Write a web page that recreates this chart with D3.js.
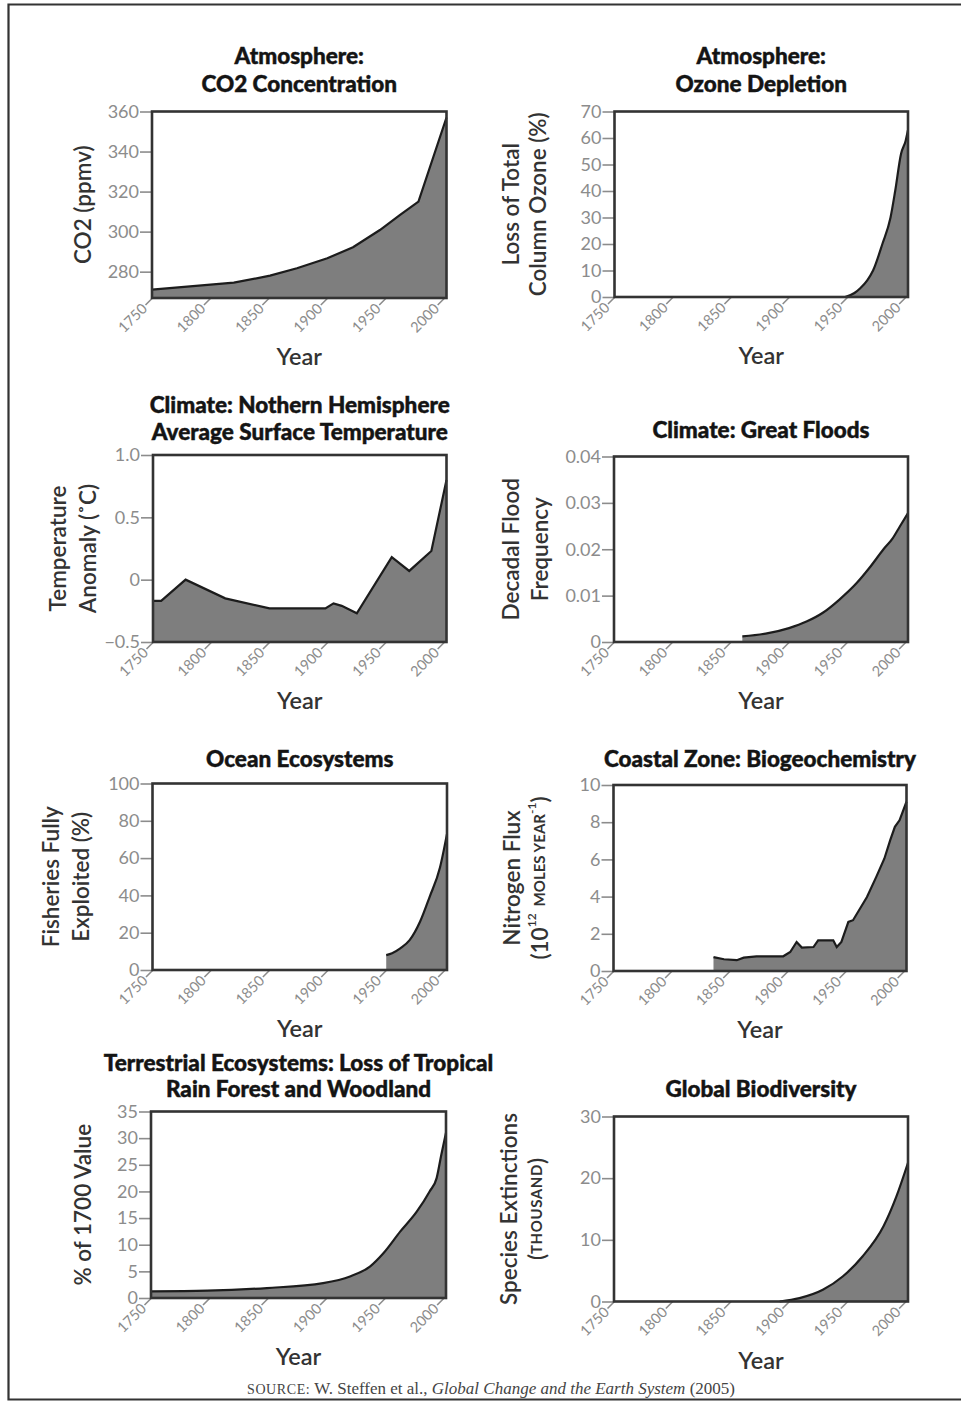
<!DOCTYPE html>
<html>
<head>
<meta charset="utf-8">
<title>Earth System Trends 1750-2000</title>
<script src="https://d3js.org/d3.v7.min.js"></script>
<style>
    body {
        margin: 0;
        background: #fff;
    }
    svg {
        display: block;
        font-family: Lato, "Open Sans", sans-serif;
    }
    .title {
        font-weight: 900;
        font-size: 22.5px;
        fill: #141414;
        stroke: #141414;
        stroke-width: 0.45px;
        text-anchor: middle;
    }
    .ytitle {
        font-size: 22.5px;
        font-weight: 600;
        fill: #333;
        text-anchor: middle;
        dominant-baseline: central;
    }
    .xtitle {
        font-size: 23.5px;
        font-weight: 600;
        fill: #333;
        text-anchor: middle;
    }
    .axis text {
        fill: #8c8c8c;
    }
    .axis line {
        stroke: #8c8c8c;
        stroke-width: 1.6;
    }
    .area {
        fill: #7e7e7e;
    }
    .line {
        fill: none;
        stroke: #1c1c1c;
        stroke-width: 2.2;
    }
    .frame {
        fill: none;
        stroke: #333;
        stroke-width: 2.6;
    }
    .source {
        font-family: "Liberation Serif", "DejaVu Serif", serif;
        font-size: 17px;
        fill: #444;
        text-anchor: middle;
    }
</style>
</head>
<body>
<div id="chart"></div>
<script>
    // shared x ticks
    const yearTicks = [1750, 1800, 1850, 1900, 1950, 2000];

    // Atmosphere: CO2 concentration (ppmv)
    const co2Years = [1750, 1820, 1851, 1874, 1900, 1922, 1945, 1962, 1978, 2002];
    const co2Values = [271, 274.5, 278, 281.7, 286.7, 292.2, 300.8, 308.3, 315, 357];
    const co2Ticks = [280, 300, 320, 340, 360];

    // Atmosphere: ozone depletion (%)
    const ozoneYears = [1948, 1956, 1961, 1967, 1972, 1980, 1987, 1991, 1996, 2000, 2002];
    const ozoneValues = [0, 1.5, 3.3, 6.3, 10, 20, 30, 40, 54, 59, 63];
    const ozoneTicks = [0, 10, 20, 30, 40, 50, 60, 70];

    // Climate: NH average surface temperature anomaly (C)
    const tempYears = [1750, 1757, 1778, 1812, 1850, 1898, 1905, 1912, 1925, 1955, 1970, 1989, 2002];
    const tempValues = [-0.17, -0.17, 0.0, -0.15, -0.23, -0.23, -0.19, -0.21, -0.27, 0.18, 0.07, 0.23, 0.8];
    const tempTicks = [-0.5, 0, 0.5, 1.0];

    // Climate: great floods (decadal frequency)
    const floodYears = [1860, 1880, 1900, 1915, 1929, 1943, 1958, 1969, 1981, 1989, 1995, 2002];
    const floodValues = [0.0012, 0.0018, 0.003, 0.0044, 0.0063, 0.0091, 0.0127, 0.016, 0.02, 0.0224, 0.0249, 0.0278];
    const floodTicks = [0, 0.01, 0.02, 0.03, 0.04];

    // Ocean ecosystems: fisheries fully exploited (%)
    const fishYears = [1950, 1955, 1962, 1970, 1979, 1987, 1996, 2002];
    const fishValues = [8, 9, 11.6, 16, 26, 39, 55, 73];
    const fishTicks = [0, 20, 40, 60, 80, 100];

    // Coastal zone: nitrogen flux (10^12 moles/year)
    const nitroYears = [1836, 1845, 1856, 1862, 1873, 1896, 1902, 1907.5, 1912, 1922, 1926, 1939, 1942, 1946, 1952, 1956, 1968, 1976, 1983, 1988, 1992, 1996, 2002];
    const nitroValues = [0.75, 0.63, 0.58, 0.72, 0.79, 0.79, 1.02, 1.56, 1.26, 1.29, 1.65, 1.65, 1.29, 1.56, 2.64, 2.73, 3.98, 5.06, 6.05, 7.04, 7.75, 8.1, 9.1];
    const nitroTicks = [0, 2, 4, 6, 8, 10];

    // Terrestrial: loss of tropical rain forest and woodland (% of 1700)
    const forestYears = [1750, 1798, 1849, 1897, 1920, 1937, 1948.5, 1963, 1977, 1988, 1994, 1998, 2002];
    const forestValues = [1.25, 1.37, 1.87, 2.8, 4.05, 5.9, 8.4, 12.5, 16.2, 20, 22.5, 26.9, 31];
    const forestTicks = [0, 5, 10, 15, 20, 25, 30, 35];

    // Global biodiversity: species extinctions (thousand)
    const extinctYears = [1892, 1909, 1929, 1946, 1963, 1981, 1992, 2002];
    const extinctValues = [0, 0.55, 1.9, 4.05, 7.3, 12.2, 17, 22.5];
    const extinctTicks = [0, 10, 20, 30];

    const width = 961, height = 1401;

    const svg = d3.select("#chart")
        .append("svg")
        .attr("width", width)
        .attr("height", height);

    // page frame: left, top and bottom rules only
    svg.append("path")
        .attr("d", "M961,4.5 H8.5 V1399.5 H961")
        .attr("fill", "none")
        .attr("stroke", "#333")
        .attr("stroke-width", 2.2);

    const panels = [
        {years: co2Years, values: co2Values, ticks: co2Ticks, domain: [266.85, 360], curve: d3.curveLinear,
         box: [152, 111.5, 446.5, 298], title: ["Atmosphere:", "CO2 Concentration"], titleY: [64, 92],
         ytitle: ["CO2 (ppmv)"], ytitleX: [82]},
        {years: ozoneYears, values: ozoneValues, ticks: ozoneTicks, domain: [0, 70], curve: d3.curveMonotoneX,
         box: [614.5, 111.5, 908, 297], title: ["Atmosphere:", "Ozone Depletion"], titleY: [64, 92],
         ytitle: ["Loss of Total", "Column Ozone (%)"], ytitleX: [510, 537]},
        {years: tempYears, values: tempValues, ticks: tempTicks, domain: [-0.5, 1.0], curve: d3.curveLinear,
         box: [153, 455, 446.5, 642], title: ["Climate: Nothern Hemisphere", "Average Surface Temperature"], titleY: [413, 440],
         ytitle: ["Temperature", "Anomaly (˚C)"], ytitleX: [57, 87],
         fmt: d => d === 0 ? "0" : d3.format(".1f")(d)},
        {years: floodYears, values: floodValues, ticks: floodTicks, domain: [0, 0.04], curve: d3.curveMonotoneX,
         box: [614, 456.5, 908, 642], title: ["Climate: Great Floods"], titleY: [438],
         ytitle: ["Decadal Flood", "Frequency"], ytitleX: [510, 539],
         fmt: d => d === 0 ? "0" : d3.format(".2f")(d)},
        {years: fishYears, values: fishValues, ticks: fishTicks, domain: [0, 100], curve: d3.curveMonotoneX,
         box: [152.5, 783.5, 447, 970], title: ["Ocean Ecosystems"], titleY: [767],
         ytitle: ["Fisheries Fully", "Exploited (%)"], ytitleX: [50, 80]},
        {years: nitroYears, values: nitroValues, ticks: nitroTicks, domain: [0, 10], curve: d3.curveLinear,
         box: [613.5, 785, 906.5, 971], title: ["Coastal Zone: Biogeochemistry"], titleY: [767],
         ytitle: ["Nitrogen Flux", null], ytitleX: [511, 539]},
        {years: forestYears, values: forestValues, ticks: forestTicks, domain: [0, 35], curve: d3.curveMonotoneX,
         box: [151, 1111.5, 446, 1298], title: ["Terrestrial Ecosystems: Loss of Tropical", "Rain Forest and Woodland"], titleY: [1071, 1097],
         ytitle: ["% of 1700 Value"], ytitleX: [82]},
        {years: extinctYears, values: extinctValues, ticks: extinctTicks, domain: [0, 30], curve: d3.curveMonotoneX,
         box: [614, 1116.5, 908, 1301.5], title: ["Global Biodiversity"], titleY: [1097],
         ytitle: ["Species Extinctions", null], ytitleX: [508, 536]}
    ];

    panels.forEach((p, i) => {
        const [x0, y0, x1, y1] = p.box;
        const x = d3.scaleLinear().domain([1750, 2002]).range([x0, x1]);
        const y = d3.scaleLinear().domain(p.domain).range([y1, y0]);
        const g = svg.append("g").attr("class", "panel");

        const pts = p.years.map((yr, k) => ({year: yr, value: p.values[k]}));

        g.append("path")
            .datum(pts)
            .attr("class", "area")
            .attr("d", d3.area()
                .x(d => x(d.year))
                .y0(y1)
                .y1(d => y(d.value))
                .curve(p.curve));

        g.append("path")
            .datum(pts)
            .attr("class", "line")
            .attr("d", d3.line()
                .x(d => x(d.year))
                .y(d => y(d.value))
                .curve(p.curve));

        // y axis
        const yAxis = g.append("g")
            .attr("class", "axis")
            .attr("transform", `translate(${x0},0)`)
            .call(d3.axisLeft(y).tickValues(p.ticks).tickSize(12).tickPadding(1)
                .tickFormat(p.fmt || d3.format("d")));
        yAxis.select(".domain").remove();
        yAxis.selectAll("text")
            .style("font-size", "18px")
            .style("font-family", "Lato, sans-serif");

        // x axis with slanted ticks
        const xAxis = g.append("g")
            .attr("class", "axis")
            .attr("transform", `translate(0,${y1})`)
            .call(d3.axisBottom(x).tickValues(yearTicks).tickSize(0).tickFormat(d3.format("d")));
        xAxis.select(".domain").remove();
        xAxis.selectAll("line")
            .attr("x2", -7)
            .attr("y2", 7);
        xAxis.selectAll("text")
            .attr("x", 0)
            .attr("y", 0)
            .attr("dy", "0.35em")
            .attr("text-anchor", "end")
            .attr("transform", "translate(-8,8) rotate(-45)")
            .style("font-size", "14.5px")
            .style("font-family", "Lato, sans-serif");

        g.append("rect")
            .attr("class", "frame")
            .attr("x", x0)
            .attr("y", y0)
            .attr("width", x1 - x0)
            .attr("height", y1 - y0);

        // titles
        p.title.forEach((t, k) => {
            g.append("text")
                .attr("class", "title")
                .attr("x", (x0 + x1) / 2)
                .attr("y", p.titleY[k])
                .text(t);
        });

        g.append("text")
            .attr("class", "xtitle")
            .attr("x", (x0 + x1) / 2)
            .attr("y", y1 + 67)
            .text("Year");

        const cy = (y0 + y1) / 2;
        p.ytitle.forEach((t, k) => {
            const tx = g.append("text")
                .attr("class", "ytitle")
                .attr("transform", `translate(${p.ytitleX[k]},${cy}) rotate(-90)`);
            if (t !== null) {
                tx.text(t);
            } else if (i === 5) {
                tx.append("tspan").text("(10");
                tx.append("tspan").attr("dy", -8).style("font-size", "12px").text("12");
                tx.append("tspan").attr("dy", 8).style("font-size", "15px").style("font-weight", "bold")
                    .attr("dx", 7).text("MOLES YEAR");
                tx.append("tspan").attr("dy", -8).style("font-size", "12px").text("-1");
                tx.append("tspan").attr("dy", 8).text(")");
            } else {
                tx.append("tspan").text("(");
                tx.append("tspan").style("font-size", "15px").style("font-weight", "bold")
                    .style("letter-spacing", "0.6px").text("THOUSAND");
                tx.append("tspan").text(")");
            }
        });
    });

    // source line
    const src = svg.append("text")
        .attr("class", "source")
        .attr("x", 491)
        .attr("y", 1394);
    src.append("tspan").style("font-size", "14px").style("letter-spacing", "0.6px").text("SOURCE:");
    src.append("tspan").text(" W. Steffen et al., ");
    src.append("tspan").style("font-style", "italic").text("Global Change and the Earth System");
    src.append("tspan").text(" (2005)");
</script>
</body>
</html>
